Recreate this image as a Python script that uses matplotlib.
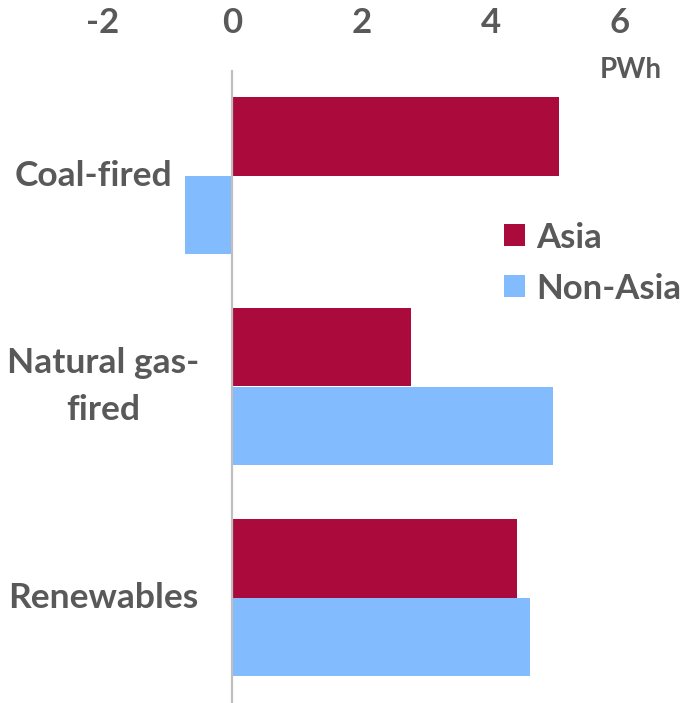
import matplotlib
matplotlib.use("Agg")
import matplotlib.pyplot as plt
import numpy as np

categories = ["Coal-fired", "Natural gas-\nfired", "Renewables"]
asia = [5.05, 2.77, 4.40]
non_asia = [-0.73, 4.96, 4.61]
xticks = [-2, 0, 2, 4, 6]

RED = "#AB0B3C"
BLUE = "#83BBFF"
GREY = "#595959"

plt.rcParams["font.family"] = ["Lato", "DejaVu Sans"]
plt.rcParams["font.weight"] = "bold"

W, H = 691, 703
fig = plt.figure(figsize=(W / 100, H / 100), dpi=100)
# axes: x=-2 at px 103, x=6 at px 620 ; top at px 70, bottom at px 703
x0, x1 = 103, 620
ax = fig.add_axes([x0 / W, 0, (x1 - x0) / W, (H - 70) / H])

y = np.arange(len(categories))
h = 0.37
ax.barh(y - h / 2, asia, height=h, color=RED, label="Asia")
ax.barh(y + h / 2, non_asia, height=h, color=BLUE, label="Non-Asia")
ax.axvline(0, color="#BFBFBF", lw=1.6, zorder=3)

ax.set_xlim(-2, 6)
ax.set_ylim(2.5, -0.5)
ax.xaxis.tick_top()
ax.set_xticks(xticks)
ax.set_xticklabels([str(t) for t in xticks], fontsize=25, color=GREY, fontweight="bold")
ax.tick_params(axis="x", length=0, pad=22)
ax.set_yticks([])
for s in ax.spines.values():
    s.set_visible(False)

# category labels, centred left of the plot
label_x = [-2.15, -2.0, -2.0]
for yi, lx, c in zip(y, label_x, categories):
    ax.text(lx, yi, c, ha="center", va="center", fontsize=25.5, color=GREY,
            fontweight="bold", linespacing=1.55)

ax.text(1.02, 1.0, "PWh", transform=ax.transAxes, ha="center", va="center",
        fontsize=20, color=GREY, fontweight="bold")

leg = ax.legend(loc="center left", bbox_to_anchor=(0.775, 0.695), frameon=False,
                fontsize=25, handlelength=0.6, handleheight=0.6,
                handletextpad=0.35, labelspacing=0.55, borderpad=0, borderaxespad=0)
for t in leg.get_texts():
    t.set_color(GREY)

fig.savefig("out.png", dpi=100)
